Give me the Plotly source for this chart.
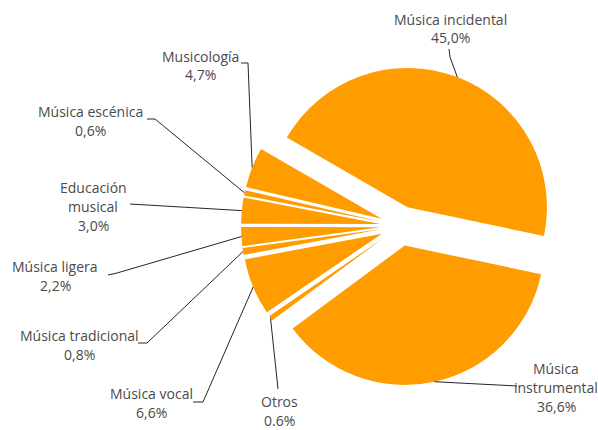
import math
import plotly.graph_objects as go

# ---------------- data ----------------
categories = ["Música incidental", "Música instrumental", "Otros", "Música vocal",
              "Música tradicional", "Música ligera", "Educación musical",
              "Música escénica", "Musicología"]
shares = [45.0, 36.6, 0.6, 6.6, 0.8, 2.2, 3.0, 0.6, 4.7]
share_labels = ["45,0%", "36,6%", "0.6%", "6,6%", "0,8%", "2,2%", "3,0%", "0,6%", "4,7%"]
label_lines = [["Música incidental"], ["Música", "instrumental"], ["Otros"], ["Música vocal"],
               ["Música tradicional"], ["Música ligera"], ["Educación", "musical"],
               ["Música escénica"], ["Musicología"]]

# ---------------- layout / geometry (pixels) ----------------
W, H = 598, 430
CX, CY = 400.4, 226.0      # pie centre
R = 139.4                  # slice radius
D = 20.0                   # explode distance
PULL = D / R
ROT = -60                  # start angle (clockwise from 12 o'clock)
COLOR = "#FF9C00"
TEXT_COLOR = "#4a4a4a"
LINE_COLOR = "#262626"
FONT = "Open Sans"
FS = 14
LINE_H = 19

# label first-line centre, leader start, leader elbow
label_pos = [(450, 19), (556, 368), (279, 401), (151, 393), (79, 335),
             (55, 266), (93, 187), (90, 111), (200, 56)]
leader_start = [(449, 49), (517, 386), (278, 389), (193, 402), (138, 343),
                (108, 275), (130, 204), (147, 119), (241, 63)]
leader_elbow = [(450, 57), None, None, (203, 402), (147, 343),
                (117, 273), None, (155, 119), (248, 63)]

def px(x):
    return x / W

def py(y):
    return 1 - y / H

box = R + D
fig = go.Figure(go.Pie(
    labels=categories,
    values=shares,
    sort=False,
    direction="clockwise",
    rotation=ROT,
    pull=[PULL] * len(shares),
    marker=dict(colors=[COLOR] * len(shares), line=dict(width=0)),
    textinfo="none",
    hoverinfo="label+percent",
    showlegend=False,
    domain=dict(x=[px(CX - box), px(CX + box)], y=[py(CY + box), py(CY - box)]),
))

total = sum(shares)
annotations = []
shapes = []
cum = 0.0
for i, v in enumerate(shares):
    mid = math.radians(ROT + (cum + v / 2) / total * 360)
    cum += v
    ex = CX + box * math.sin(mid)
    ey = CY - box * math.cos(mid)
    pts = [leader_start[i]]
    if leader_elbow[i] is not None:
        pts.append(leader_elbow[i])
    pts.append((ex, ey))
    for (x0, y0), (x1, y1) in zip(pts[:-1], pts[1:]):
        shapes.append(dict(type="line", xref="paper", yref="paper",
                           x0=px(x0), y0=py(y0), x1=px(x1), y1=py(y1),
                           line=dict(color=LINE_COLOR, width=1)))
    lines = label_lines[i] + [share_labels[i]]
    lx, ly = label_pos[i]
    for k, t in enumerate(lines):
        annotations.append(dict(text=t, xref="paper", yref="paper",
                                x=px(lx), y=py(ly + k * LINE_H),
                                xanchor="center", yanchor="middle", showarrow=False,
                                borderpad=0,
                                font=dict(family=FONT, size=FS, color=TEXT_COLOR)))

fig.update_layout(
    width=W, height=H,
    margin=dict(l=0, r=0, t=0, b=0),
    paper_bgcolor="white", plot_bgcolor="white",
    annotations=annotations, shapes=shapes,
)

fig.write_html("out.html", config={"displayModeBar": False})

# remove the default page margin so the figure sits at the window origin
with open("out.html", "r", encoding="utf-8") as f:
    html = f.read()
html = html.replace("<head>", "<head><style>html,body{margin:0;padding:0;overflow:hidden;}</style>", 1)
with open("out.html", "w", encoding="utf-8") as f:
    f.write(html)
